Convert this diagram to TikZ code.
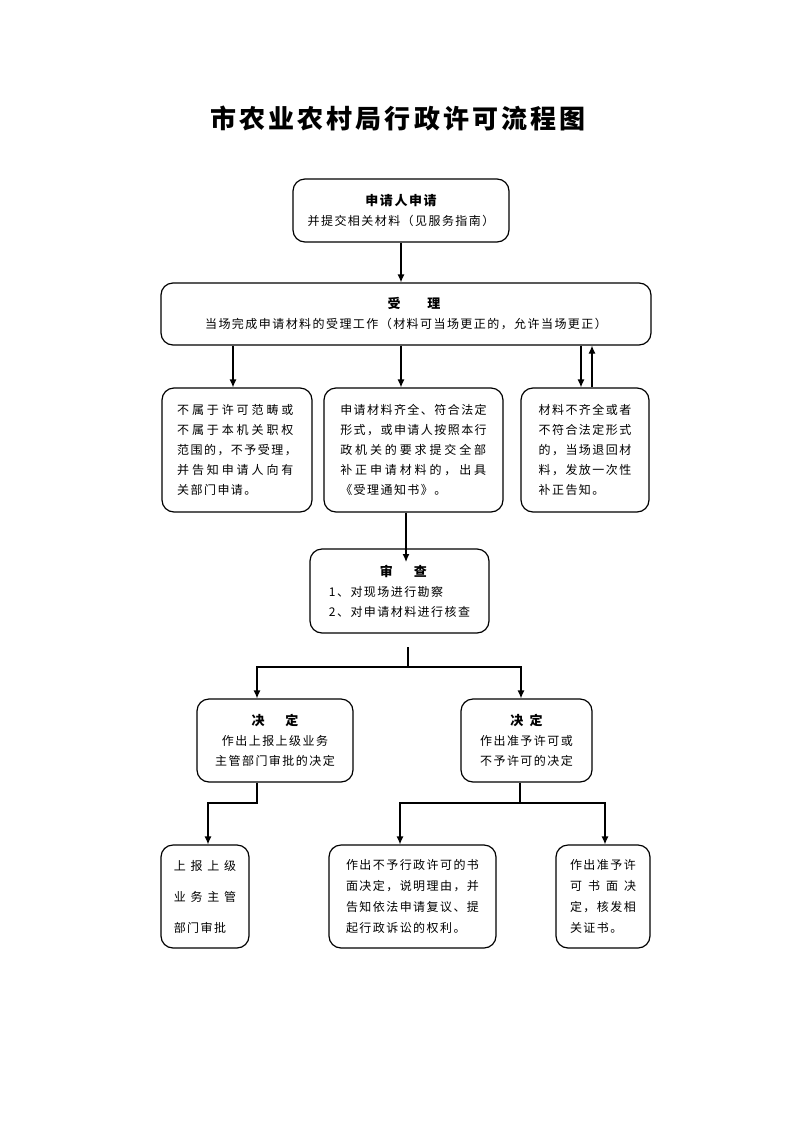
\documentclass[tikz,border=0pt]{standalone}
\usepackage{fontspec}
\setmainfont{Noto Sans CJK SC}[LetterSpace=12]
\newfontfamily\midfont{Noto Sans CJK SC}[LetterSpace=24]
\newfontfamily\widefont{Noto Sans CJK SC}[LetterSpace=40]
\usetikzlibrary{calc, arrows.meta}

\tikzset{
    flow_box/.style = {draw, line width = 1.2pt, rounded corners = 12pt, inner sep = 0pt, font = \fontsize{12}{20}\selectfont},
    flow_line/.style = {line width = 1.2pt},
    flow_arrow/.style = {line width = 1.2pt, -{Latex[length = 8pt, width = 7pt]}}
}

\begin{document}
\begin{tikzpicture}[x = 1pt, y = -1pt]
            \useasboundingbox (0, 0) rectangle (793, 1122);

            \coordinate (pt_review_in) at (406, 562);
            \coordinate (pt_split_top) at (408, 647);
            \coordinate (pt_split) at (408, 667);
            \coordinate (pt_report_out) at (257, 803);
            \coordinate (pt_decide_out) at (520, 803);

            \node[font = \bfseries\fontsize{26}{30}\selectfont] (title) at (398, 118) {市农业农村局行政许可流程图};

            \node[flow_box, align = center, minimum width = 216pt, minimum height = 63pt] (node_apply) at (401, 210.5)
                {{\bfseries\fontsize{13}{20}\selectfont 申请人申请}\\并提交相关材料（见服务指南）};

            \node[flow_box, align = center, minimum width = 490pt, minimum height = 62pt] (node_accept) at (406, 314)
                {\hspace*{16pt}{\bfseries\fontsize{13}{20}\selectfont 受\hspace{27pt}理}\\当场完成申请材料的受理工作（材料可当场更正的，允许当场更正）};

            \node[flow_box, align = left, minimum width = 150pt, minimum height = 124pt] (node_reject) at (237, 450)
                {{\midfont 不属于许可范畴或}\\{\midfont 不属于本机关职权}\\范围的，不予受理，\\{\midfont 并告知申请人向有}\\关部门申请。};

            \node[flow_box, align = left, minimum width = 179pt, minimum height = 124pt] (node_notice) at (413.5, 450)
                {申请材料齐全、符合法定\\形式，或申请人按照本行\\{\midfont 政机关的要求提交全部}\\{\midfont 补正申请材料的，出具}\\《受理通知书》。};

            \node[flow_box, align = left, minimum width = 128pt, minimum height = 124pt] (node_supply) at (585, 450)
                {材料不齐全或者\\不符合法定形式\\的，当场退回材\\料，发放一次性\\补正告知。};

            \node[flow_box, align = left, minimum width = 179pt, minimum height = 84pt] (node_review) at (399.5, 591)
                {\hspace*{51pt}{\bfseries\fontsize{13}{20}\selectfont 审\hspace{21pt}查}\\1、对现场进行勘察\\2、对申请材料进行核查};

            \node[flow_box, align = center, minimum width = 156pt, minimum height = 83pt] (node_report) at (275, 740.5)
                {{\bfseries\fontsize{13}{20}\selectfont 决\hspace{21pt}定}\\作出上报上级业务\\主管部门审批的决定};

            \node[flow_box, align = center, minimum width = 131pt, minimum height = 83pt] (node_decide) at (526.5, 740.5)
                {{\bfseries\fontsize{13}{20}\selectfont 决\enspace 定}\\作出准予许可或\\不予许可的决定};

            \node[flow_box, align = left, minimum width = 88pt, minimum height = 103pt, font = \fontsize{12}{31}\selectfont] (node_submit) at (205, 896.5)
                {{\widefont 上报上级}\\{\widefont 业务主管}\\部门审批};

            \node[flow_box, align = left, minimum width = 167pt, minimum height = 103pt, font = \fontsize{12}{21}\selectfont] (node_refuse) at (412.5, 896.5)
                {作出不予行政许可的书\\面决定，说明理由，并\\告知依法申请复议、提\\起行政诉讼的权利。};

            \node[flow_box, align = left, minimum width = 94pt, minimum height = 103pt, font = \fontsize{12}{21}\selectfont] (node_grant) at (603, 896.5)
                {作出准予许\\可\hspace{6pt}书\hspace{6pt}面\hspace{6pt}决\\定，核发相\\关证书。};

            \draw[flow_arrow] (node_apply.south) -- (node_apply.south |- node_accept.north);

            \draw[flow_arrow] ([xshift = -4pt]node_reject.north |- node_accept.south) -- ([xshift = -4pt]node_reject.north);
            \draw[flow_arrow] (node_apply.south |- node_accept.south) -- (node_apply.south |- node_notice.north);
            \draw[flow_arrow] ([xshift = -4pt]node_supply.north |- node_accept.south) -- ([xshift = -4pt]node_supply.north);
            \draw[flow_arrow] ([xshift = 7pt]node_supply.north) -- ([xshift = 7pt]node_supply.north |- node_accept.south);

            \draw[flow_arrow] (node_notice.south -| pt_review_in) -- (pt_review_in);

            \draw[flow_line] (pt_split_top) -- (pt_split);
            \draw[flow_arrow] (pt_split) -| ([xshift = -18pt]node_report.north);
            \draw[flow_arrow] (pt_split) -| ([xshift = -5.5pt]node_decide.north);

            \draw[flow_arrow] ([xshift = -18pt]node_report.south) -- (pt_report_out) -| ([xshift = 3pt]node_submit.north);

            \draw[flow_line] (node_decide.south -| pt_decide_out) -- (pt_decide_out);
            \draw[flow_arrow] (pt_decide_out) -| ([xshift = -12.5pt]node_refuse.north);
            \draw[flow_arrow] (pt_decide_out) -| ([xshift = 2pt]node_grant.north);
        \end{tikzpicture}
\end{document}
